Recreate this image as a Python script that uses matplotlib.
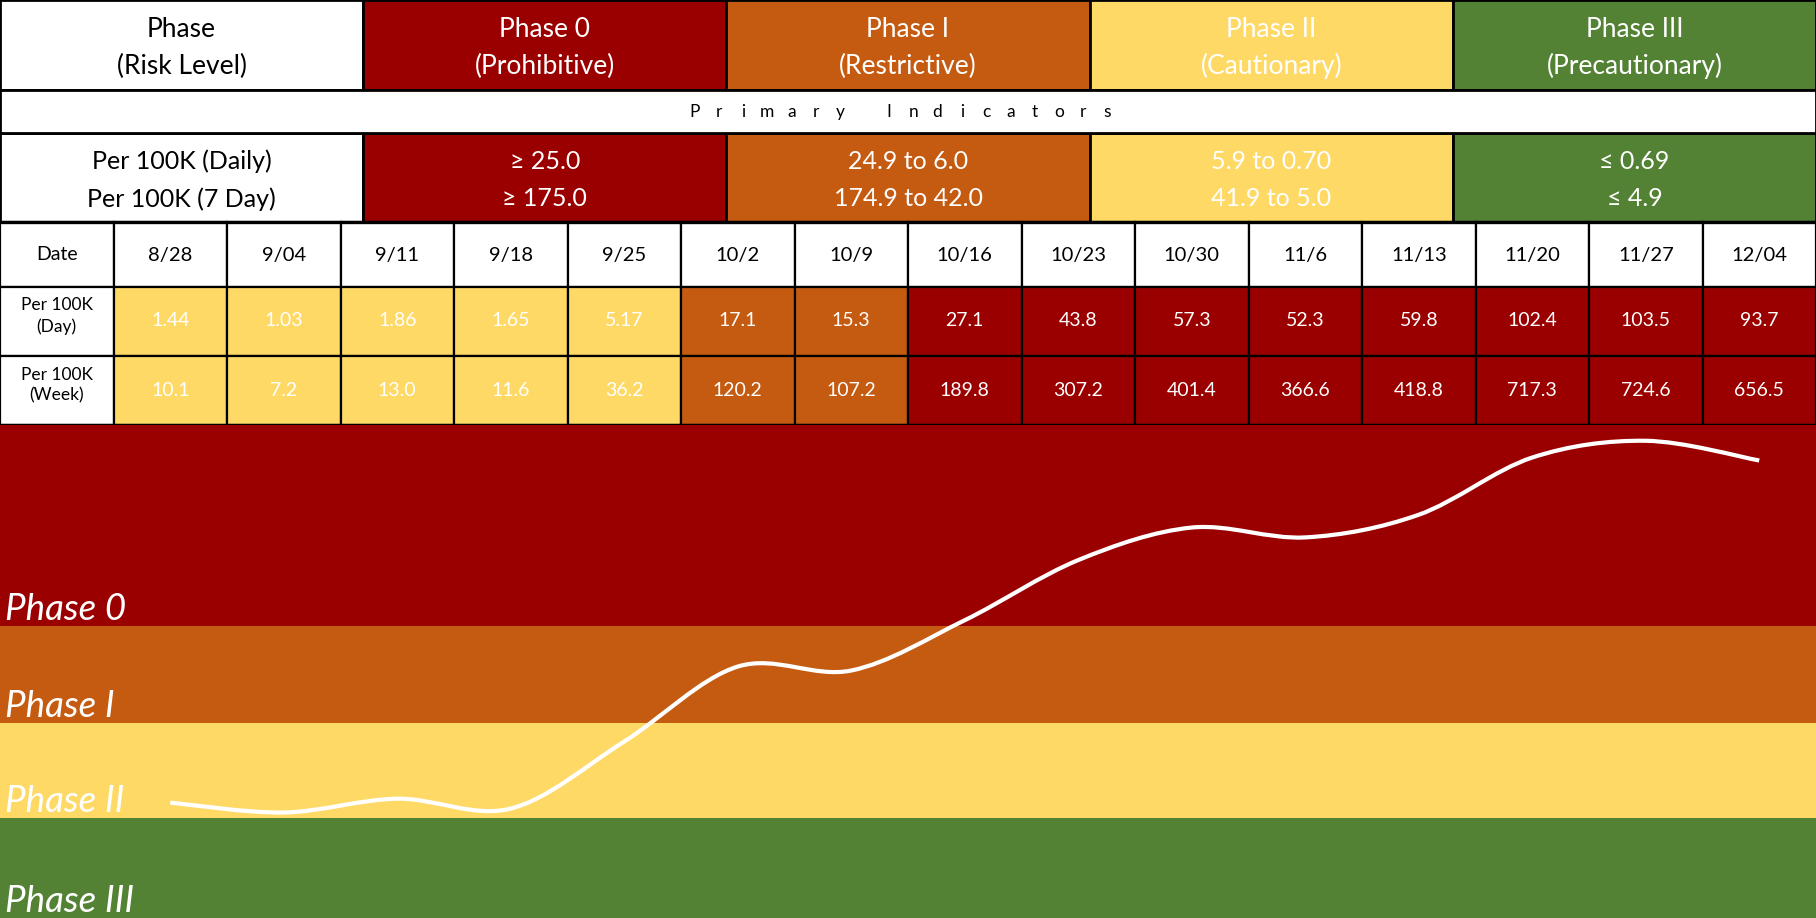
import numpy as np
import matplotlib.pyplot as plt
from matplotlib.patches import Rectangle, PathPatch
from matplotlib.path import Path

# --- data ---
phases = ['Phase 0', 'Phase I', 'Phase II', 'Phase III']
phase_risk = ['(Prohibitive)', '(Restrictive)', '(Cautionary)', '(Precautionary)']
phase_colors = ['#9B0000', '#C55A11', '#FFD966', '#548235']
daily_ranges = ['\u2265 25.0', '24.9 to 6.0', '5.9 to 0.70', '\u2264 0.69']
weekly_ranges = ['\u2265 175.0', '174.9 to 42.0', '41.9 to 5.0', '\u2264 4.9']
daily_cutoffs = [25.0, 6.0, 0.70]

dates = ['8/28', '9/04', '9/11', '9/18', '9/25', '10/2', '10/9', '10/16',
         '10/23', '10/30', '11/6', '11/13', '11/20', '11/27', '12/04']
per_day = [1.44, 1.03, 1.86, 1.65, 5.17, 17.1, 15.3, 27.1, 43.8, 57.3,
           52.3, 59.8, 102.4, 103.5, 93.7]
per_week = [10.1, 7.2, 13.0, 11.6, 36.2, 120.2, 107.2, 189.8, 307.2, 401.4,
            366.6, 418.8, 717.3, 724.6, 656.5]

# trend curve height (band scale: green 0-1, yellow 1-2, orange 2-3, red 3-5)
band_edges = [5.0, 2.96, 1.98, 1.01, 0.0]
trend_level = [1.17, 1.07, 1.21, 1.11, 1.79, 2.55, 2.51, 3.02, 3.63, 3.96,
               3.86, 4.09, 4.67, 4.84, 4.64]

FONT = ['Lato', 'DejaVu Sans']
W, H = 1816, 918
TABLE_H = 425


def phase_of(v):
    for i, c in enumerate(daily_cutoffs):
        if v >= c:
            return i
    return 3


def fmt_day(v):
    return f'{v:.2f}' if v < 10 else f'{v:.1f}'


fig = plt.figure(figsize=(W / 100, H / 100), dpi=100)

# --- table part ---
ax = fig.add_axes([0, 1 - TABLE_H / H, 1, TABLE_H / H])
ax.set_xlim(0, 16)
ax.set_ylim(TABLE_H, 0)
ax.axis('off')

rows = [0, 90, 133, 222, 287, 356, 425]


def cell(x0, x1, y0, y1, color, lw=1.6):
    ax.add_patch(Rectangle((x0, y0), x1 - x0, y1 - y0, facecolor=color,
                           edgecolor='black', linewidth=lw, clip_on=False))


def txt(x, y, s, color, size, ls=1.25):
    ax.text(x, y, s, color=color, fontsize=size, ha='center', va='center',
            family=FONT, linespacing=ls)


top_w = 16 / 5
# header + ranges rows
cell(0, top_w, rows[0], rows[1], 'white', 2)
txt(top_w / 2, 48, 'Phase\n(Risk Level)', 'black', 19, 1.55)
cell(0, top_w, rows[2], rows[3], 'white', 2)
txt(top_w / 2, 180, 'Per 100K (Daily)\nPer 100K (7 Day)', 'black', 18, 1.75)
for i, p in enumerate(phases):
    x0 = top_w * (i + 1)
    cell(x0, x0 + top_w, rows[0], rows[1], phase_colors[i], 2)
    txt(x0 + top_w / 2, 48, p + '\n' + phase_risk[i], 'white', 19, 1.55)
    cell(x0, x0 + top_w, rows[2], rows[3], phase_colors[i], 2)
    txt(x0 + top_w / 2, 180, daily_ranges[i] + '\n' + weekly_ranges[i], 'white', 18, 1.75)

# primary indicators row
cell(0, 16, rows[1], rows[2], 'white', 2)
label = 'Primary Indicators'
pitch = 24.3 / 113.5
cx = 901 / 113.5
for k, ch in enumerate(label):
    ax.text(cx + (k - (len(label) - 1) / 2) * pitch, 112, ch, fontsize=12.5,
            ha='center', va='center', family=FONT, color='black')

# date / value rows
cell(0, 1, rows[3], rows[4], 'white')
txt(0.5, 255, 'Date', 'black', 14)
cell(0, 1, rows[4], rows[5], 'white')
txt(0.5, 316, 'Per 100K\n(Day)', 'black', 12.5, 1.35)
cell(0, 1, rows[5], rows[6], 'white')
txt(0.5, 385, 'Per 100K\n(Week)', 'black', 12.5, 1.35)

for i, d in enumerate(dates):
    x0 = i + 1
    col = phase_colors[phase_of(per_day[i])]
    cell(x0, x0 + 1, rows[3], rows[4], 'white')
    txt(x0 + 0.5, 255, d, 'black', 14.5)
    cell(x0, x0 + 1, rows[4], rows[5], col)
    txt(x0 + 0.5, 321, fmt_day(per_day[i]), 'white', 14)
    cell(x0, x0 + 1, rows[5], rows[6], col)
    txt(x0 + 0.5, 390, f'{per_week[i]:.1f}', 'white', 14)

ax.plot([0, 16], [rows[3], rows[3]], color='black', lw=2.4, clip_on=False)
ax.plot([0, 16], [rows[6], rows[6]], color='black', lw=2.4, clip_on=False)

# --- chart part ---
ax2 = fig.add_axes([0, 0, 1, 1 - TABLE_H / H])
ax2.set_xlim(0, 16)
ax2.set_ylim(0, 5)
ax2.axis('off')

for i, p in enumerate(phases):
    hi, lo = band_edges[i], band_edges[i + 1]
    ax2.axhspan(lo, hi, color=phase_colors[i], lw=0)
    ax2.text(0.04, lo + 0.06, p, color='white', fontsize=26.5, style='italic',
             fontweight='normal', family=FONT, ha='left', va='baseline')

# smooth trend line (Catmull-Rom as cubic Bezier)
xs = np.arange(len(dates)) + 1.5
pts = np.column_stack([xs, trend_level])
ext = np.vstack([pts[0], pts, pts[-1]])
verts = [pts[0]]
codes = [Path.MOVETO]
for k in range(len(pts) - 1):
    p0, p1, p2, p3 = ext[k], ext[k + 1], ext[k + 2], ext[k + 3]
    verts += [p1 + (p2 - p0) / 6, p2 - (p3 - p1) / 6, p2]
    codes += [Path.CURVE4] * 3
ax2.add_patch(PathPatch(Path(verts, codes), facecolor='none', edgecolor='white',
                        linewidth=3, capstyle='butt'))

fig.savefig('out.png', dpi=100)
